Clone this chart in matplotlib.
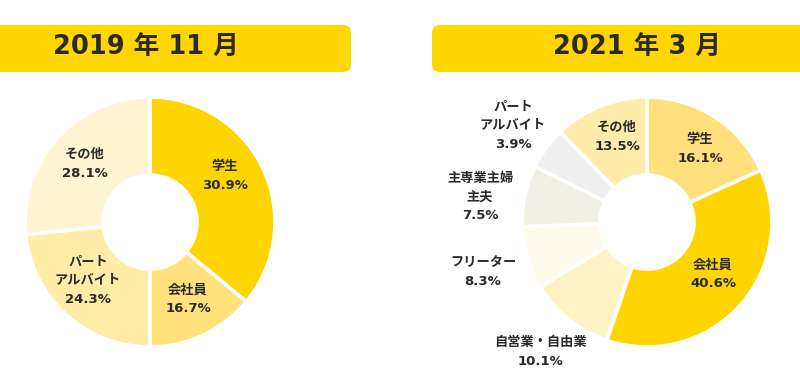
import matplotlib
matplotlib.use('Agg')
import matplotlib.pyplot as plt
from matplotlib.patches import FancyBboxPatch

# latin glyphs from DejaVu, japanese falls back to Noto CJK
plt.rcParams['font.family'] = ['DejaVu Sans', 'Noto Sans CJK JP']

# --- data ---
title_2019 = '2019 年 11 月'
labels_2019 = ['学生', '会社員', 'パート\nアルバイト', 'その他']
pct_2019 = ['30.9%', '16.7%', '24.3%', '28.1%']
arc_2019 = [36.0, 14.0, 23.4, 26.6]   # arc sizes as drawn in the original picture
colors_2019 = ['#FFD500', '#FFE27C', '#FFECA6', '#FFF5D3']

title_2021 = '2021 年 3 月'
labels_2021 = ['学生', '会社員', '自営業・自由業', 'フリーター', '主専業主婦\n主夫', 'パート\nアルバイト', 'その他']
pct_2021 = ['16.1%', '40.6%', '10.1%', '8.3%', '7.5%', '3.9%', '13.5%']
arc_2021 = [18.2, 37.0, 11.1, 8.1, 7.9, 5.5, 12.2]
colors_2021 = ['#FFE07C', '#FFD500', '#FFF3C6', '#FFFBEA', '#F2F0E4', '#EFEFEF', '#FFEBAA']

# label anchor points (pixels, from top-left)
pos_2019 = [(225, 176), (188, 299), (88, 281), (85, 164)]
pos_2021 = [(700, 149), (713, 274), (540, 352), (483, 272), (480, 197), (513, 126), (617, 137)]

W, H = 800, 376
TXT = '#2a2a2a'
BANNER = '#FFD600'

fig = plt.figure(figsize=(8, 3.76), dpi=100)
ax = fig.add_axes([0, 0, 1, 1])


def donut(arcs, colors, center):
    ax.pie(arcs, colors=colors, startangle=90, counterclock=False,
           center=(center[0], H - center[1]), radius=125,
           wedgeprops=dict(width=78, edgecolor='white', linewidth=2.6))


def put_labels(labels, pcts, positions):
    for lab, pct, (x, y) in zip(labels, pcts, positions):
        lines = lab.split('\n') + [pct]
        step = 18.5
        y0 = y - (len(lines) - 1) * step / 2
        for i, line in enumerate(lines):
            ax.text(x, H - (y0 + i * step), line, ha='center', va='center',
                    fontsize=9.5, fontweight='bold', color=TXT)


donut(arc_2019, colors_2019, (150, 222))
donut(arc_2021, colors_2021, (647, 222))
put_labels(labels_2019, pct_2019, pos_2019)
put_labels(labels_2021, pct_2021, pos_2021)

# title banners
ax.add_patch(FancyBboxPatch((-20, H - 72), 371, 47, boxstyle='round,pad=0,rounding_size=8',
                            fc=BANNER, ec='none'))
ax.add_patch(FancyBboxPatch((432, H - 72), 400, 47, boxstyle='round,pad=0,rounding_size=8',
                            fc=BANNER, ec='none'))
ax.text(146, H - 48, title_2019, ha='center', va='center', fontsize=18.5,
        fontweight='bold', color=TXT)
ax.text(637, H - 48, title_2021, ha='center', va='center', fontsize=18.5,
        fontweight='bold', color=TXT)

ax.set_xlim(0, W)
ax.set_ylim(0, H)
ax.set_aspect('equal')
ax.axis('off')

fig.savefig('out.png', dpi=100)
